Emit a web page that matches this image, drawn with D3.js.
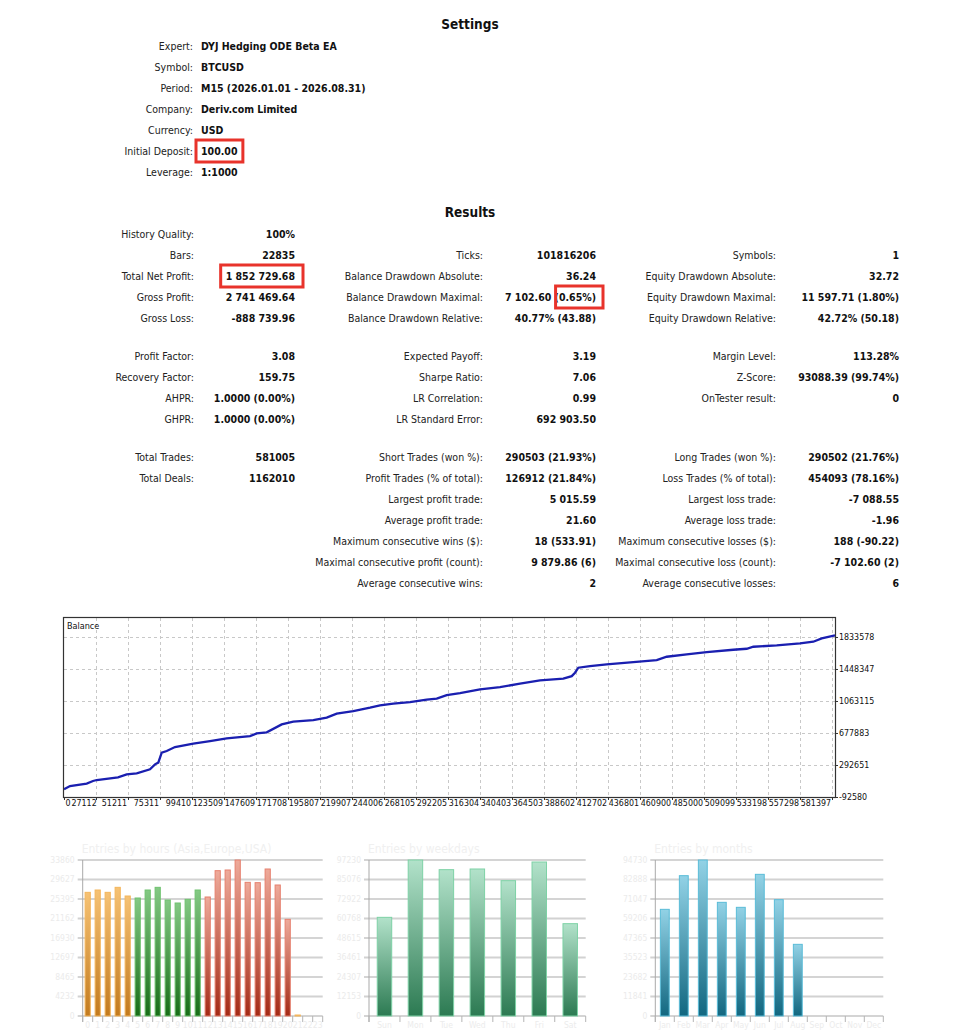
<!DOCTYPE html>
<html><head><meta charset="utf-8">
<script src="https://cdn.jsdelivr.net/npm/d3@7"></script>
<style>
html,body{margin:0;padding:0;background:#fff;}
svg{display:block;}
text{font-family:Tahoma,"DejaVu Sans Condensed","DejaVu Sans",sans-serif;}
</style></head><body>
<svg id="c" width="967" height="1030"></svg>
<script>
// ---------------- DATA ----------------
const settingsLabels = ["Expert:", "Symbol:", "Period:", "Company:", "Currency:", "Initial Deposit:", "Leverage:"];
const settingsValues = ["DYJ Hedging ODE Beta EA", "BTCUSD", "M15 (2026.01.01 - 2026.08.31)", "Deriv.com Limited", "USD", "100.00", "1:1000"];

// [row, label, value]
const resultsLeft = [
  [0, "History Quality:", "100%"],
  [1, "Bars:", "22835"],
  [2, "Total Net Profit:", "1 852 729.68"],
  [3, "Gross Profit:", "2 741 469.64"],
  [4, "Gross Loss:", "-888 739.96"],
  [5, "Profit Factor:", "3.08"],
  [6, "Recovery Factor:", "159.75"],
  [7, "AHPR:", "1.0000 (0.00%)"],
  [8, "GHPR:", "1.0000 (0.00%)"],
  [9, "Total Trades:", "581005"],
  [10, "Total Deals:", "1162010"]
];
const resultsMiddle = [
  [1, "Ticks:", "101816206"],
  [2, "Balance Drawdown Absolute:", "36.24"],
  [3, "Balance Drawdown Maximal:", "7 102.60 (0.65%)"],
  [4, "Balance Drawdown Relative:", "40.77% (43.88)"],
  [5, "Expected Payoff:", "3.19"],
  [6, "Sharpe Ratio:", "7.06"],
  [7, "LR Correlation:", "0.99"],
  [8, "LR Standard Error:", "692 903.50"],
  [9, "Short Trades (won %):", "290503 (21.93%)"],
  [10, "Profit Trades (% of total):", "126912 (21.84%)"],
  [11, "Largest profit trade:", "5 015.59"],
  [12, "Average profit trade:", "21.60"],
  [13, "Maximum consecutive wins ($):", "18 (533.91)"],
  [14, "Maximal consecutive profit (count):", "9 879.86 (6)"],
  [15, "Average consecutive wins:", "2"]
];
const resultsRight = [
  [1, "Symbols:", "1"],
  [2, "Equity Drawdown Absolute:", "32.72"],
  [3, "Equity Drawdown Maximal:", "11 597.71 (1.80%)"],
  [4, "Equity Drawdown Relative:", "42.72% (50.18)"],
  [5, "Margin Level:", "113.28%"],
  [6, "Z-Score:", "93088.39 (99.74%)"],
  [7, "OnTester result:", "0"],
  [9, "Long Trades (won %):", "290502 (21.76%)"],
  [10, "Loss Trades (% of total):", "454093 (78.16%)"],
  [11, "Largest loss trade:", "-7 088.55"],
  [12, "Average loss trade:", "-1.96"],
  [13, "Maximum consecutive losses ($):", "188 (-90.22)"],
  [14, "Maximal consecutive loss (count):", "-7 102.60 (2)"],
  [15, "Average consecutive losses:", "6"]
];

// Balance curve (trade number, balance)
const balanceTrades = [0, 4522, 17107, 21854, 24643, 40694, 47251, 54787, 64810, 68578, 71065, 73627, 77395, 83650, 97440, 110026, 122611, 140170, 145219, 152755, 164059, 172801, 187873, 197971, 205507, 218017, 230602, 238138, 248161, 260746, 273331, 280867, 288403, 298426, 313498, 328570, 343642, 358714, 376273, 382604, 385090, 387577, 396394, 408979, 429024, 446659, 454195, 469267, 484339, 504385, 514483, 519457, 537091, 554650, 564672, 571003, 581005];
const balanceValues = [100, 40000, 68600, 99900, 111900, 144400, 180400, 192500, 240600, 300700, 321100, 441400, 460700, 508800, 549700, 580900, 613400, 641100, 673500, 685600, 781800, 814300, 833500, 862400, 910500, 941700, 982600, 1010300, 1030700, 1050000, 1078900, 1090900, 1134200, 1158200, 1202700, 1230400, 1271300, 1311000, 1331400, 1362700, 1403600, 1463700, 1483000, 1503400, 1531100, 1555100, 1596000, 1623700, 1651300, 1680200, 1692200, 1716300, 1731900, 1756000, 1776400, 1816100, 1852830];
const balanceYTicks = [-92580, 292651, 677883, 1063115, 1448347, 1833578];
const balanceXTickLabels = ["0", "27112", "51211", "75311", "99410", "123509", "147609", "171708", "195807", "219907", "244006", "268105", "292205", "316304", "340403", "364503", "388602", "412702", "436801", "460900", "485000", "509099", "533198", "557298", "581397"];
const totalTrades = 581005;

// Histograms
const hourLabels = d3.range(24).map(String);
const hourValues = [26842, 27348, 26842, 27927, 26046, 25612, 27348, 27927, 25178, 24527, 25323, 27348, 25829, 31544, 31689, 33860, 29012, 28940, 31906, 28433, 20981, 217, 0, 0];
const hourSessions = ["Asia","Asia","Asia","Asia","Asia","Europe","Europe","Europe","Europe","Europe","Europe","Europe","USA","USA","USA","USA","USA","USA","USA","USA","USA","Asia","Asia","Asia"];
const weekdayLabels = ["Sun", "Mon", "Tue", "Wed", "Thu", "Fri", "Sat"];
const weekdayValues = [61496, 97230, 91205, 91621, 84349, 95983, 57549];
const monthLabels = ["Jan", "Feb", "Mar", "Apr", "May", "Jun", "Jul", "Aug", "Sep", "Oct", "Nov", "Dec"];
const monthValues = [64773, 85215, 94730, 69023, 65987, 86025, 70642, 43519, 0, 0, 0, 0];

// ---------------- DRAWING ----------------
const FONT = 'Tahoma,"DejaVu Sans Condensed","DejaVu Sans",sans-serif';
const svg = d3.select("#c");
const defs = svg.append("defs");

// Settings
svg.append("text").attr("x", 470).attr("y", 29).attr("text-anchor", "middle")
  .attr("font-size", 13.5).attr("font-weight", "bold").attr("fill", "#111").text("Settings");
const setY = i => 46 + 21 * i;
const setG = svg.append("g").attr("font-size", 10.5);
settingsLabels.forEach((l, i) => {
  setG.append("text").attr("x", 193).attr("y", setY(i)).attr("dy", "0.36em")
    .attr("text-anchor", "end").attr("fill", "#222").text(l);
});
const setVals = settingsValues.map((v, i) =>
  setG.append("text").attr("x", 201).attr("y", setY(i)).attr("dy", "0.36em")
    .attr("font-weight", "bold").attr("fill", "#111").text(v));

// Results
svg.append("text").attr("x", 470).attr("y", 217).attr("text-anchor", "middle")
  .attr("font-size", 13.5).attr("font-weight", "bold").attr("fill", "#111").text("Results");
const rowY = r => 234 + 21 * r + (r >= 5 ? 17 : 0) + (r >= 9 ? 17 : 0);
const resG = svg.append("g").attr("font-size", 10.5);
const resultCols = [
  {data: resultsLeft, lx: 194, vx: 295},
  {data: resultsMiddle, lx: 483, vx: 596},
  {data: resultsRight, lx: 776, vx: 899}
];
const valueNodes = {};
resultCols.forEach((col, ci) => {
  col.data.forEach(([r, l, v]) => {
    resG.append("text").attr("x", col.lx).attr("y", rowY(r)).attr("dy", "0.36em")
      .attr("text-anchor", "end").attr("fill", "#222").text(l);
    const t = resG.append("text").attr("x", col.vx).attr("y", rowY(r)).attr("dy", "0.36em")
      .attr("text-anchor", "end").attr("font-weight", "bold").attr("fill", "#111").text(v);
    valueNodes[ci + ":" + r] = t;
  });
});

// Red highlight boxes
function redBox(x0, x1, yc) {
  svg.append("rect").attr("x", x0).attr("y", yc - 11).attr("width", x1 - x0).attr("height", 22)
    .attr("fill", "none").attr("stroke", "#e8332b").attr("stroke-width", 3);
}
{
  const b = setVals[5].node().getBBox();
  redBox(b.x - 5, b.x + b.width + 5, setY(5));
  const b2 = valueNodes["0:2"].node().getBBox();
  redBox(b2.x - 5, b2.x + b2.width + 8, rowY(2));
  const n3 = valueNodes["1:3"].node();
  const s = n3.getStartPositionOfChar(9).x;
  const bb = n3.getBBox();
  redBox(s + 1, bb.x + bb.width + 7, rowY(3));
}

// Balance chart
const bx0 = 64, bx1 = 835, by0 = 618, by1 = 797;
const xB = d3.scaleLinear().domain([0, totalTrades]).range([bx0, bx1]);
const yB = d3.scaleLinear().domain([-92580, -92580 + (balanceYTicks[1] - balanceYTicks[0]) * (by1 - by0) / 32]).range([by1, by0]);
const xTickStep = totalTrades * 32 / (bx1 - bx0);
const xTickVals = balanceXTickLabels.map((_, i) => i * xTickStep);
const bG = svg.append("g");
bG.append("rect").attr("x", bx0).attr("y", by0).attr("width", bx1 - bx0).attr("height", by1 - by0).attr("fill", "#fff");
// grid
bG.selectAll(".vg").data(xTickVals.slice(1)).join("line")
  .attr("x1", d => Math.round(xB(d)) + 0.5).attr("x2", d => Math.round(xB(d)) + 0.5)
  .attr("y1", by0).attr("y2", by1).attr("stroke", "#c8c8c8").attr("stroke-dasharray", "3,3");
bG.selectAll(".hg").data(balanceYTicks.slice(1)).join("line")
  .attr("x1", bx0).attr("x2", bx1).attr("y1", d => Math.round(yB(d)) + 0.5).attr("y2", d => Math.round(yB(d)) + 0.5)
  .attr("stroke", "#c8c8c8").attr("stroke-dasharray", "3,3");
// line
const pts = balanceTrades.map((t, i) => [t, balanceValues[i]]);
bG.append("path").datum(pts)
  .attr("d", d3.line().x(d => xB(d[0])).y(d => yB(d[1])))
  .attr("fill", "none").attr("stroke", "#1a1fb0").attr("stroke-width", 2.3);
// frame
bG.append("rect").attr("x", bx0 - 0.5).attr("y", by0 - 0.5).attr("width", bx1 - bx0 + 1).attr("height", by1 - by0 + 1)
  .attr("fill", "none").attr("stroke", "#333").attr("stroke-width", 1.2);
bG.append("text").attr("x", bx0 + 3).attr("y", by0 + 11).attr("font-size", 9).attr("fill", "#111").text("Balance");
// y axis labels
const yAx = bG.append("g").attr("transform", `translate(${bx1},0)`)
  .call(d3.axisRight(yB).tickValues(balanceYTicks).tickSize(3).tickFormat(d => String(d)));
yAx.select(".domain").remove();
yAx.selectAll("line").attr("stroke", "#333");
yAx.selectAll("text").attr("font-size", 8.8).attr("fill", "#111").attr("x", 4)
  .style("font-family", FONT);
// x axis labels
const xAx = bG.append("g").attr("transform", `translate(0,${by1})`)
  .call(d3.axisBottom(xB).tickValues(xTickVals).tickSize(3).tickFormat((d, i) => balanceXTickLabels[i]));
xAx.select(".domain").remove();
xAx.selectAll("line").attr("stroke", "#333");
xAx.selectAll("text").attr("font-size", 8.8).attr("fill", "#111").attr("text-anchor", "end").attr("x", -1.5).attr("y", 3).attr("dy", "0.71em")
  .style("font-family", FONT);
xAx.selectAll("text").filter((d, i) => i === 0).attr("text-anchor", "start").attr("x", 1);
xAx.selectAll("text").filter((d, i) => i === 1).attr("text-anchor", "start").attr("x", function() {
  return -(xB(xTickStep) - xB(0)) + 7;
});

// Histograms
const sessionColors = {
  Asia: ["#f6c274", "#c27a1e", "#f4b65c"],
  Europe: ["#84c984", "#176c17", "#6fc26f"],
  USA: ["#eeaa9a", "#a32a16", "#e6806e"]
};
const weekdayColors = ["#b2e2ca", "#2c7a52", "#7ed2a6"];
const monthColors = ["#92d2e6", "#126780", "#5abcd8"];
function gradient(id, top, bottom) {
  const g = defs.append("linearGradient").attr("id", id).attr("x1", 0).attr("y1", 0).attr("x2", 0).attr("y2", 1);
  g.append("stop").attr("offset", "0%").attr("stop-color", top);
  g.append("stop").attr("offset", "100%").attr("stop-color", bottom);
}
Object.entries(sessionColors).forEach(([k, c]) => gradient("g" + k, c[0], c[1]));
gradient("gWeek", weekdayColors[0], weekdayColors[1]);
gradient("gMonth", monthColors[0], monthColors[1]);

const hist = [
  {title: "Entries by hours (Asia,Europe,USA)", labels: hourLabels, values: hourValues,
   fill: i => "url(#g" + hourSessions[i] + ")", stroke: i => sessionColors[hourSessions[i]][2],
   left: 82.7, right: 322.7, pad: 0.38},
  {title: "Entries by weekdays", labels: weekdayLabels, values: weekdayValues,
   fill: () => "url(#gWeek)", stroke: () => weekdayColors[2], left: 369, right: 585.7, pad: 0.5},
  {title: "Entries by months", labels: monthLabels, values: monthValues,
   fill: () => "url(#gMonth)", stroke: () => monthColors[2], left: 655.3, right: 883.3, pad: 0.48}
];
const hTop = 860, hBot = 1016;
hist.forEach(h => {
  const g = svg.append("g");
  const max = d3.max(h.values);
  const y = d3.scaleLinear().domain([0, max]).range([hBot, hTop]);
  const x = d3.scaleBand().domain(h.labels).range([h.left, h.right]).paddingInner(h.pad).paddingOuter(h.pad / 2);
  const tickVals = d3.range(9).map(i => i * max / 8);
  g.append("text").attr("x", h.left - 1).attr("y", 853).attr("font-size", 12).attr("fill", "#f0f0f0").text(h.title);
  g.selectAll(".gl").data(tickVals).join("line")
    .attr("x1", h.left - 5).attr("x2", h.right)
    .attr("y1", d => y(d)).attr("y2", d => y(d))
    .attr("stroke", (d, i) => (i % 2 === 1) ? "#d2d2d2" : "#a9a9a9")
    .attr("stroke-width", (d, i) => (i % 2 === 1) ? 2 : 1);
  g.selectAll(".yl").data(tickVals).join("text")
    .attr("x", h.left - 8).attr("y", d => y(d)).attr("dy", "0.35em").attr("text-anchor", "end")
    .attr("font-size", 8.5).attr("fill", "#ebebeb").text(d => Math.floor(d));
  g.append("line").attr("x1", h.left).attr("x2", h.left).attr("y1", hTop).attr("y2", hBot + 6)
    .attr("stroke", "#a9a9a9");
  const step = x.step();
  g.selectAll(".xt").data(d3.range(h.labels.length + 1)).join("line")
    .attr("x1", i => h.left + i * step).attr("x2", i => h.left + i * step)
    .attr("y1", hBot).attr("y2", hBot + 6).attr("stroke", "#b4b4b4");
  g.selectAll(".xl").data(h.labels).join("text")
    .attr("x", d => x(d) + x.bandwidth() / 2).attr("y", hBot + 12).attr("text-anchor", "middle")
    .attr("font-size", 8.5).attr("fill", "#ececec").text(d => d);
  g.selectAll(".bar").data(h.values).join("rect")
    .attr("x", (d, i) => x(h.labels[i]) + 0.5).attr("width", x.bandwidth() - 1)
    .attr("y", d => y(d)).attr("height", d => hBot - y(d))
    .attr("fill", (d, i) => h.fill(i)).attr("stroke", (d, i) => h.stroke(i)).attr("stroke-width", 1)
    .attr("display", d => d > 0 ? null : "none");
});
</script>
</body></html>
